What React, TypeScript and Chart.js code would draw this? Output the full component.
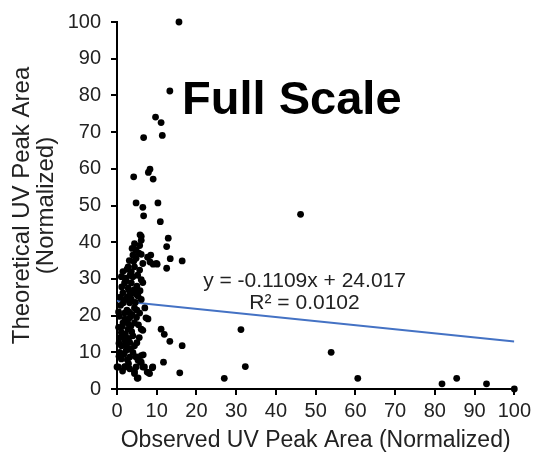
import React, { useEffect, useRef } from "react";
import { Chart, registerables } from "chart.js";

Chart.register(...registerables);

// Observed (x) vs theoretical (y) normalized UV peak areas
const outlierPoints: [number, number][] = [
  [15.6, 100], [13.3, 81.2], [9.7, 74.1], [11.1, 72.6], [11.4, 69.1], [6.7, 68.5],
  [8.3, 59.9], [7.9, 59.0], [4.2, 57.8], [9.1, 57.2], [4.8, 50.7], [6.5, 49.5],
  [10.3, 50.7], [6.7, 47.2], [10.9, 45.6], [6.1, 41.6], [5.8, 42.0], [12.9, 41.1],
  [12.5, 38.8], [13.4, 35.5], [16.4, 34.9], [9.1, 34.0], [10.1, 34.0], [12.5, 32.9],
  [8.5, 36.5], [7.7, 35.9], [8.3, 34.6],
  [46.2, 47.6], [31.2, 16.2], [32.3, 6.1], [27.0, 2.9], [53.9, 10.0], [60.6, 2.9],
  [81.8, 1.4], [85.5, 2.9], [93.0, 1.4], [100, 0],
  [11.1, 16.3], [11.9, 14.9], [13.3, 13.0], [16.4, 11.8], [11.7, 7.3], [15.8, 4.4],
  [8.9, 5.8], [8.0, 4.4], [5.1, 2.9], [6.9, 6.0], [8.2, 4.2], [7.6, 4.6],
  [7.3, 19.4], [6.5, 16.0], [6.6, 9.3], [5.9, 7.3], [4.4, 4.8],
];

const clusterPoints: [number, number][] = [
  [6.1, 40.5], [4.4, 39.6], [5.7, 39.1], [3.8, 38.3], [4.8, 37.8], [4.0, 36.5],
  [6.1, 36.7], [4.8, 35.6], [6.5, 34.2], [9.9, 34.2], [2.8, 33.3], [4.4, 33.3],
  [5.7, 32.4], [1.5, 32.0], [3.6, 32.0], [1.1, 30.6], [2.3, 30.2], [4.0, 30.6],
  [1.9, 28.9], [3.6, 28.9], [6.1, 29.8], [2.8, 27.5], [4.4, 27.1], [6.5, 29.0],
  [1.5, 26.2], [3.2, 25.7], [5.3, 25.3], [6.1, 24.4], [1.9, 24.4], [3.2, 23.5],
  [4.4, 22.1], [7.0, 22.1], [5.7, 20.7], [1.9, 20.7], [3.2, 19.4], [7.8, 19.1],
  [1.5, 18.0], [4.4, 18.0], [6.1, 16.3], [2.8, 16.3], [1.1, 15.4], [4.0, 14.5],
  [1.9, 13.6], [3.2, 12.7], [1.1, 11.8], [4.4, 11.8], [2.3, 10.5], [0.7, 10.0],
  [4.0, 10.0], [6.1, 9.1], [3.2, 8.7], [1.1, 8.2], [5.3, 7.8], [0.3, 6.0],
  [1.9, 6.0], [3.2, 5.5], [4.8, 6.0], [6.5, 6.0], [6.1, 7.3], [9.0, 6.0],
  [4.4, 4.2], [5.3, 3.0], [0.0, 6.0], [2.0, 6.1],
  [0.5, 12.5], [0.8, 14.0], [1.3, 17.0], [2.0, 19.0], [2.5, 21.5], [0.9, 22.8],
  [1.6, 23.5], [2.6, 25.0], [0.6, 19.8], [0.4, 16.8], [2.1, 15.0], [2.9, 13.8],
  [3.5, 17.2], [3.8, 20.3], [2.4, 11.7], [1.7, 9.5], [2.6, 8.0], [0.5, 8.9],
  [3.6, 24.5], [4.6, 23.6], [5.0, 21.5], [3.0, 21.0], [4.9, 19.5], [5.4, 17.5],
  [5.6, 14.0], [3.0, 27.0], [2.2, 29.5], [3.3, 31.0], [5.0, 28.0], [5.2, 31.0],
  [4.2, 34.8], [5.5, 37.0], [3.1, 35.0], [1.2, 27.8], [0.8, 25.0], [0.4, 21.0],
  [2.5, 32.6], [3.9, 26.2], [4.8, 25.9], [5.8, 26.8], [2.7, 18.0], [3.7, 15.6],
  [5.0, 12.6], [2.1, 12.9], [3.4, 10.9], [4.7, 8.8], [1.4, 4.9], [2.9, 6.9],
];

// Linear trend line endpoints (y = -0.1109x + 24.017)
const trendX = [0, 100];
const trendY = [24.017, 12.927];

const xTicks = [0, 10, 20, 30, 40, 50, 60, 70, 80, 90, 100];
const yTicks = [0, 10, 20, 30, 40, 50, 60, 70, 80, 90, 100];

const chartTitle = "Full Scale";
const eqLine1 = "y = -0.1109x + 24.017";
const eqLine2 = "R² = 0.0102";
const xTitle = "Observed UV Peak Area (Normalized)";
const yTitle = ["Theoretical UV Peak Area", "(Normalized)"];

// annotation anchor positions (data coords)
const titlePos = { x: 44.0, y: 74.8 };
const eq1Pos = { x: 47.2, y: 27.9 };
const eq2Pos = { x: 47.2, y: 21.7 };

const FONT = '"Liberation Sans", Arial, sans-serif';

const textPlugin = {
  id: "textAnnot",
  afterDraw(chart: any) {
    const { ctx, scales } = chart;
    const xs = scales.x;
    const ys = scales.y;
    ctx.save();
    ctx.fillStyle = "#000";
    ctx.textAlign = "center";
    ctx.textBaseline = "alphabetic";
    ctx.font = `bold 47px ${FONT}`;
    ctx.fillText(chartTitle, xs.getPixelForValue(titlePos.x), ys.getPixelForValue(titlePos.y));
    ctx.font = `21px ${FONT}`;
    ctx.fillStyle = "#222";
    ctx.fillText(eqLine1, xs.getPixelForValue(eq1Pos.x), ys.getPixelForValue(eq1Pos.y));
    ctx.fillText(eqLine2, xs.getPixelForValue(eq2Pos.x), ys.getPixelForValue(eq2Pos.y));
    ctx.restore();
  },
};

export default function App() {
  const ref = useRef<HTMLCanvasElement>(null);
  useEffect(() => {
    if (!ref.current) return;
    const scatterData = [...outlierPoints, ...clusterPoints].map(([x, y]) => ({ x, y }));
    const trendData = trendX.map((x, i) => ({ x, y: trendY[i] }));
    const chart = new Chart(ref.current, {
      type: "scatter",
      data: {
        datasets: [
          {
            type: "line",
            data: trendData,
            borderColor: "#4472C4",
            borderWidth: 2,
            pointRadius: 0,
            fill: false,
            order: 2,
          } as any,
          {
            data: scatterData,
            backgroundColor: "#000",
            borderWidth: 0,
            pointRadius: 3.4,
            clip: false,
            order: 1,
          } as any,
        ],
      },
      options: {
        responsive: false,
        animation: false,
        layout: { padding: { left: 0, top: 16, right: 20, bottom: 0 } },
        plugins: { legend: { display: false }, tooltip: { enabled: false } },
        scales: {
          x: {
            type: "linear",
            min: 0,
            max: 100,
            afterFit: (s: any) => { s.height = 71; },
            afterBuildTicks: (s: any) => { s.ticks = xTicks.map((v) => ({ value: v })); },
            border: { display: true, color: "#000", width: 2 },
            grid: { display: true, drawOnChartArea: false, drawTicks: true, tickLength: 6, color: "#000", lineWidth: 2 },
            ticks: { color: "#222", font: { family: FONT, size: 20 }, padding: 4, maxRotation: 0 },
            title: { display: true, text: xTitle, color: "#222", font: { family: FONT, size: 23, lineHeight: 1.1 }, padding: { top: 0, bottom: 7 } },
          },
          y: {
            type: "linear",
            min: 0,
            max: 100,
            afterFit: (s: any) => { s.width = 117; },
            afterBuildTicks: (s: any) => { s.ticks = yTicks.map((v) => ({ value: v })); },
            border: { display: true, color: "#000", width: 2 },
            grid: { display: true, drawOnChartArea: false, drawTicks: true, tickLength: 6, color: "#000", lineWidth: 2 },
            ticks: { color: "#222", font: { family: FONT, size: 20 }, padding: 10 },
            title: { display: true, text: yTitle, color: "#222", font: { family: FONT, size: 24, lineHeight: 1.0 }, padding: { top: 10, bottom: 0 } },
          },
        },
      },
      plugins: [textPlugin],
    });
    return () => chart.destroy();
  }, []);
  return (
    <div style={{ position: "fixed", left: 0, top: 0, width: 535, height: 460, background: "#fff" }}>
      <canvas ref={ref} width={535} height={460} style={{ display: "block" }} />
    </div>
  );
}
